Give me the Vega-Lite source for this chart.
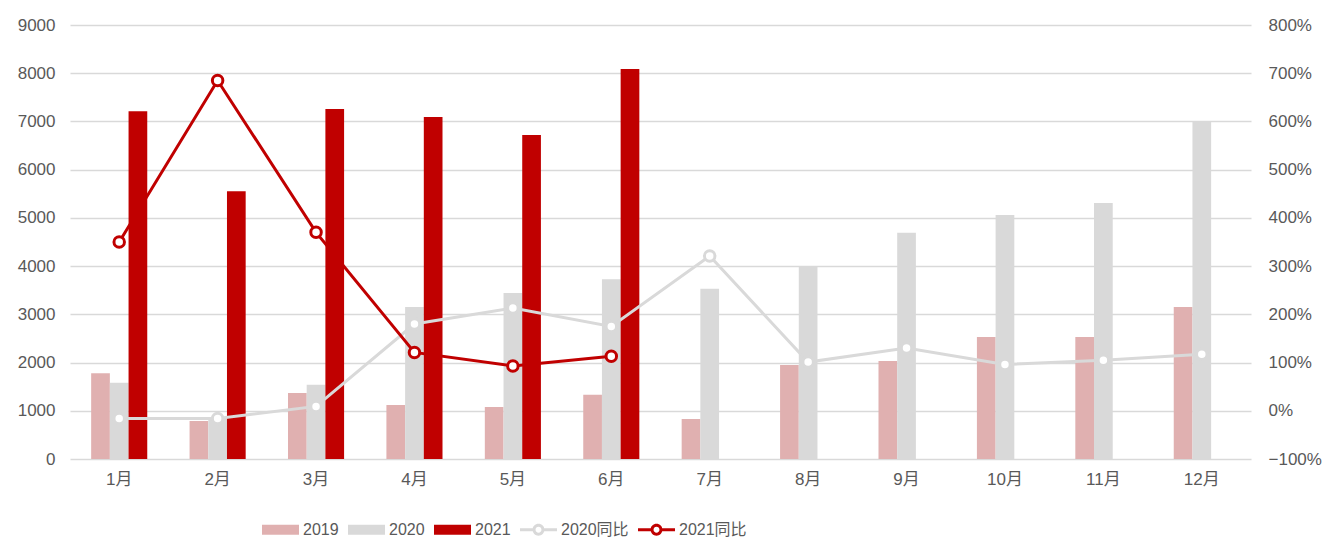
{
  "$schema": "https://vega.github.io/schema/vega-lite/v6.json",
  "width": 1181,
  "height": 434,
  "autosize": {"type": "none"},
  "padding": {"left": 70, "top": 25, "right": 72, "bottom": 79},
  "background": "white",
  "config": {
    "view": {"stroke": null},
    "font": "Liberation Sans, Noto Sans CJK SC",
    "axis": {"labelFont": "Liberation Sans, Noto Sans CJK SC", "labelColor": "#595959", "labelFontSize": 17, "domain": false, "ticks": false, "title": null},
    "legend": {"labelFont": "Liberation Sans, Noto Sans CJK SC", "labelColor": "#595959", "labelFontSize": 16}
  },
  "datasets": {
    "bars": [
      {"month": "1月", "series": "2019", "value": 1780},
      {"month": "1月", "series": "2020", "value": 1580},
      {"month": "1月", "series": "2021", "value": 7210},
      {"month": "2月", "series": "2019", "value": 790},
      {"month": "2月", "series": "2020", "value": 850},
      {"month": "2月", "series": "2021", "value": 5550},
      {"month": "3月", "series": "2019", "value": 1370},
      {"month": "3月", "series": "2020", "value": 1540},
      {"month": "3月", "series": "2021", "value": 7260},
      {"month": "4月", "series": "2019", "value": 1120},
      {"month": "4月", "series": "2020", "value": 3150},
      {"month": "4月", "series": "2021", "value": 7090},
      {"month": "5月", "series": "2019", "value": 1080},
      {"month": "5月", "series": "2020", "value": 3440},
      {"month": "5月", "series": "2021", "value": 6720},
      {"month": "6月", "series": "2019", "value": 1330},
      {"month": "6月", "series": "2020", "value": 3730},
      {"month": "6月", "series": "2021", "value": 8090},
      {"month": "7月", "series": "2019", "value": 830},
      {"month": "7月", "series": "2020", "value": 3530},
      {"month": "8月", "series": "2019", "value": 1950},
      {"month": "8月", "series": "2020", "value": 3980},
      {"month": "9月", "series": "2019", "value": 2030},
      {"month": "9月", "series": "2020", "value": 4690},
      {"month": "10月", "series": "2019", "value": 2530},
      {"month": "10月", "series": "2020", "value": 5060},
      {"month": "11月", "series": "2019", "value": 2530},
      {"month": "11月", "series": "2020", "value": 5310},
      {"month": "12月", "series": "2019", "value": 3150},
      {"month": "12月", "series": "2020", "value": 7010}
    ],
    "ratios": [
      {"month": "1月", "series": "2020同比", "ratio": -0.16},
      {"month": "2月", "series": "2020同比", "ratio": -0.16},
      {"month": "3月", "series": "2020同比", "ratio": 0.09},
      {"month": "4月", "series": "2020同比", "ratio": 1.80},
      {"month": "5月", "series": "2020同比", "ratio": 2.13},
      {"month": "6月", "series": "2020同比", "ratio": 1.75},
      {"month": "7月", "series": "2020同比", "ratio": 3.21},
      {"month": "8月", "series": "2020同比", "ratio": 1.01},
      {"month": "9月", "series": "2020同比", "ratio": 1.30},
      {"month": "10月", "series": "2020同比", "ratio": 0.96},
      {"month": "11月", "series": "2020同比", "ratio": 1.05},
      {"month": "12月", "series": "2020同比", "ratio": 1.17},
      {"month": "1月", "series": "2021同比", "ratio": 3.50},
      {"month": "2月", "series": "2021同比", "ratio": 6.85},
      {"month": "3月", "series": "2021同比", "ratio": 3.70},
      {"month": "4月", "series": "2021同比", "ratio": 1.21},
      {"month": "5月", "series": "2021同比", "ratio": 0.93},
      {"month": "6月", "series": "2021同比", "ratio": 1.13}
    ]
  },
  "encoding": {
    "x": {
      "field": "month",
      "type": "nominal",
      "sort": ["1月","2月","3月","4月","5月","6月","7月","8月","9月","10月","11月","12月"],
      "scale": {"paddingInner": 0.43, "paddingOuter": 0.215},
      "axis": {"labelAngle": 0, "labelPadding": 12, "grid": false}
    }
  },
  "layer": [
    {
      "data": {"name": "bars"},
      "mark": {"type": "bar"},
      "encoding": {
        "xOffset": {"field": "series", "type": "nominal", "scale": {"domain": ["2019","2020","2021"], "paddingInner": 0}},
        "y": {
          "field": "value",
          "type": "quantitative",
          "scale": {"domain": [0, 9000], "nice": false},
          "axis": {"values": [0,1000,2000,3000,4000,5000,6000,7000,8000,9000], "format": "d", "grid": true, "gridColor": "#D9D9D9", "gridWidth": 1.5, "labelPadding": 15}
        },
        "color": {
          "field": "series",
          "type": "nominal",
          "scale": {"domain": ["2019","2020","2021","2020同比","2021同比"], "range": ["#E0B0B0","#D9D9D9","#C00000","#D9D9D9","#C00000"]},
          "legend": {
            "orient": "none",
            "direction": "horizontal",
            "legendX": 192,
            "legendY": 486,
            "title": null,
            "symbolSize": 1369,
            "labelOffset": 4,
            "columnPadding": 9,
            "encode": {
              "symbols": {
                "update": {
                  "shape": {"signal": "indexof(['2019','2020','2021'], datum.value) >= 0 ? 'M-1,-0.27H1V0.27H-1Z' : 'M-1,-0.08H-0.27V0.08H-1Z M0.27,-0.08H1V0.08H0.27Z M-0.32,0A0.32,0.32 0 1,1 0.32,0A0.32,0.32 0 1,1 -0.32,0Z M-0.16,0A0.16,0.16 0 1,0 0.16,0A0.16,0.16 0 1,0 -0.16,0Z'"},
                  "fill": {"signal": "scale('color', datum.value)"},
                  "strokeWidth": {"value": 0},
                  "opacity": {"value": 1},
                  "fillOpacity": {"value": 1}
                }
              }
            }
          }
        }
      }
    },
    {
      "data": {"name": "ratios"},
      "layer": [
        {
          "mark": {"type": "line", "strokeWidth": 3},
          "encoding": {
            "y": {"field": "ratio", "type": "quantitative"},
            "color": {"field": "series", "type": "nominal"}
          }
        },
        {
          "mark": {"type": "point", "filled": false, "fill": "white", "fillOpacity": 1, "opacity": 1, "strokeWidth": 3, "size": 110},
          "encoding": {
            "y": {"field": "ratio", "type": "quantitative"},
            "color": {"field": "series", "type": "nominal"}
          }
        }
      ],
      "encoding": {
        "y": {
          "field": "ratio",
          "type": "quantitative",
          "scale": {"domain": [-1, 8], "nice": false},
          "axis": {"orient": "right", "values": [-1,0,1,2,3,4,5,6,7,8], "format": ".0%", "grid": false, "labelPadding": 17}
        }
      }
    }
  ],
  "resolve": {"scale": {"y": "independent"}}
}
